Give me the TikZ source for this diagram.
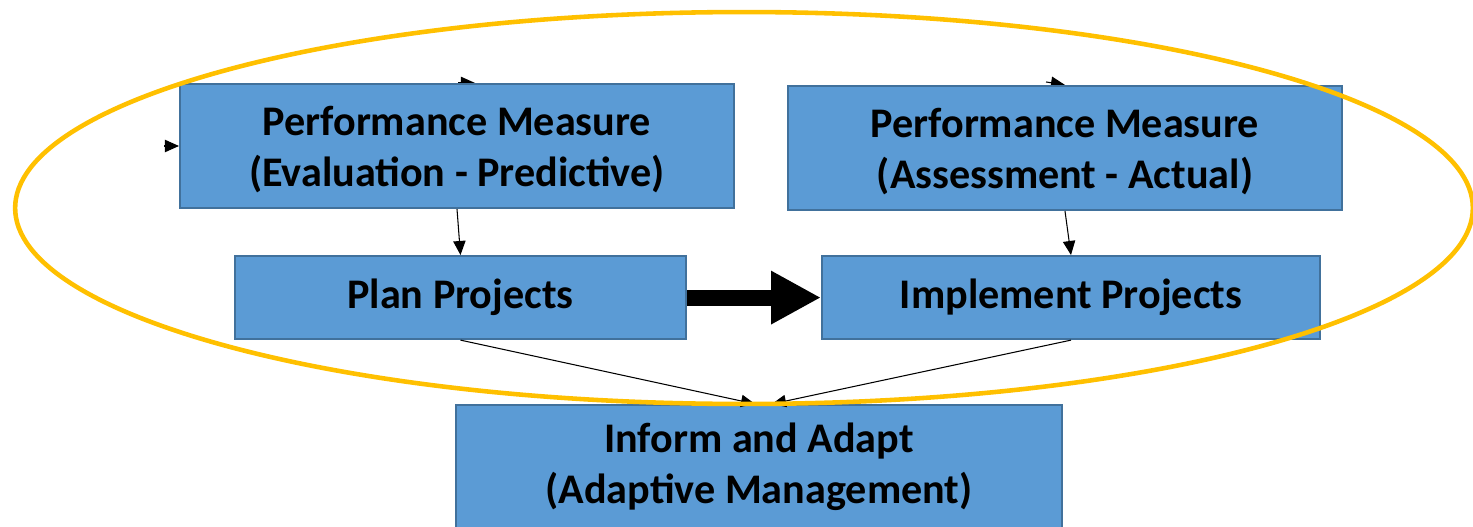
\documentclass[tikz,border=0pt]{standalone}
\usepackage{fontspec}
\setmainfont{Carlito}
\usetikzlibrary
  {
    arrows.meta,   % triangle tips
    positioning,   % place nodes relative to other nodes
    backgrounds,   % the cut-off tips behind the boxes
  }

\definecolor{boxblue}{HTML}{5B9BD5}
\definecolor{boxline}{HTML}{41719C}
\definecolor{ringgold}{HTML}{FFC000}

\begin{document}
\begin{tikzpicture}
    [
      x=0.02cm, y=-0.02cm,
      stage/.style=
        {
          rectangle,
          draw=boxline,
          line width=1.2pt,
          fill=boxblue,
          align=center,
          inner sep=0pt,
          font=\fontsize{24}{29}\selectfont\bfseries,
        },
      measure/.style=
        {
          stage,
          minimum width=11.08cm,
          minimum height=2.48cm,
          text depth=0pt,
        },
      link/.style=
        {
          -{Triangle[length=8pt,width=7pt]},
          line width=0.6pt,
        },
      push/.style=
        {
          -{Triangle[length=1cm,width=1cm]},
          line width=0.32cm,
        }
    ]
    \useasboundingbox (0,0) rectangle (1473,527);
    \clip (0,0) rectangle (1473,527);

    \node (evalmeasure) [measure] at (457,146)
      {Performance Measure\\(Evaluation - Predictive)};
    \node (assessmeasure) [measure, right=1.04cm of evalmeasure, yshift=-0.04cm]
      {Performance Measure\\(Assessment - Actual)};
    \node (plan) [stage, minimum width=9.02cm, minimum height=1.66cm,
      below=0.92cm of evalmeasure, xshift=0.07cm] {Plan Projects};
    \node (implement) [stage, minimum width=9.96cm, minimum height=1.66cm,
      right=2.68cm of plan] {Implement Projects};
    \node (inform) [stage, minimum width=12.12cm, minimum height=2.48cm]
      at (759,467) {Inform and Adapt\\(Adaptive Management)};

    % tips of connectors that run off the picture
    \begin{scope}[on background layer]
      \draw [link] ([xshift=-0.3cm]evalmeasure.west) -- (evalmeasure.west);
      \draw [link] ([xshift=0.02cm]evalmeasure.north) -- ([xshift=0.36cm]evalmeasure.north);
      \draw [link] ([xshift=-0.38cm,yshift=0.06cm]assessmeasure.north) -- (assessmeasure.north);
    \end{scope}

    \draw [link] (evalmeasure.south) -- (plan.north);
    \draw [link] (assessmeasure.south) -- (implement.north);
    \draw [push] (plan.east) -- (implement.west);
    \draw [link] (plan.south) -- ([xshift=-0.08cm]inform.north);
    \draw [link] (implement.south) -- ([xshift=0.26cm]inform.north);

    \draw [ringgold, line width=2.6pt] (744,208) ellipse [x radius=14.58cm, y radius=3.92cm];
\end{tikzpicture}
\end{document}
